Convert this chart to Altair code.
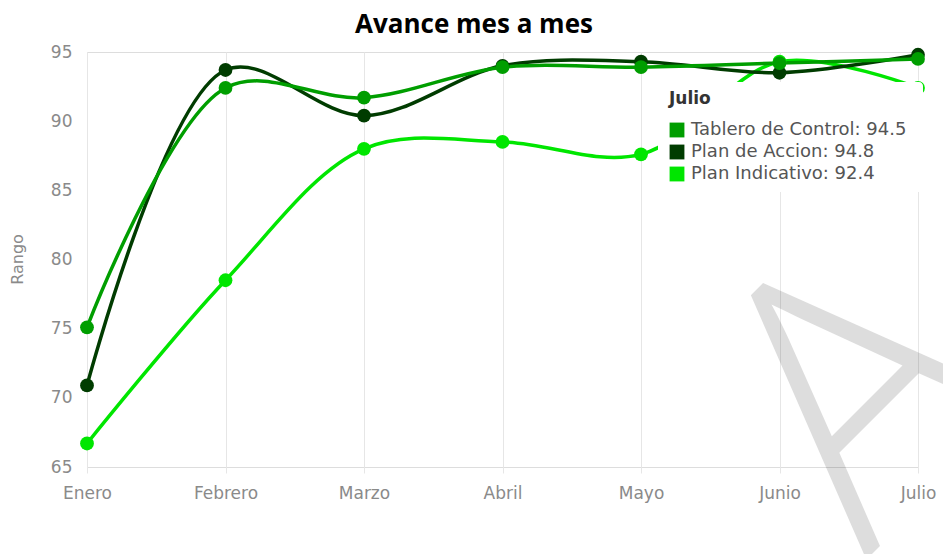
import altair as alt
import pandas as pd

meses = ["Enero", "Febrero", "Marzo", "Abril", "Mayo", "Junio", "Julio"]
series = ["Tablero de Control", "Plan de Accion", "Plan Indicativo"]
tablero = [75.1, 92.4, 91.7, 93.9, 93.9, 94.2, 94.5]
accion = [70.9, 93.7, 90.4, 94.0, 94.3, 93.5, 94.8]
indicativo = [66.7, 78.5, 88.0, 88.5, 87.6, 94.3, 92.4]
colores = ["#009e00", "#003c00", "#00e600"]
y_ticks = [65, 70, 75, 80, 85, 90, 95]
titulo = "Avance mes a mes"
eje_y = "Rango"
marca_agua = "A"

valores = {"Tablero de Control": tablero, "Plan de Accion": accion, "Plan Indicativo": indicativo}

rows = []
for s in reversed(series):
    for m, v in zip(meses, valores[s]):
        rows.append({"serie": s, "mes": m, "valor": v})
df = pd.DataFrame(rows)

FONT = "DejaVu Sans"
GRID = "#e6e6e6"
LBL = "#8a8a8a"

color = alt.Color("serie:N", scale=alt.Scale(domain=series, range=colores), legend=None)
x = alt.X("mes:N", sort=meses, scale=alt.Scale(type="point", padding=0),
          axis=alt.Axis(title=None, grid=True, gridColor=GRID, domain=False, tickColor=GRID,
                        tickSize=6, labelPadding=12, labelAngle=0, labelFont=FONT,
                        labelFontSize=17, labelColor=LBL))
y = alt.Y("valor:Q", scale=alt.Scale(domain=[65, 95], nice=False, zero=False),
          axis=alt.Axis(values=y_ticks, grid=False, domain=False, ticks=False, labelPadding=15,
                        labelFont=FONT, labelFontSize=17, labelColor=LBL,
                        title=eje_y, titleFont=FONT, titleFontSize=16, titleFontWeight="normal",
                        titleColor=LBL, titleX=-70, titleY=207, titleAngle=270,
                        titleAlign="center", titleBaseline="middle"))

lines = alt.Chart(df).mark_line(interpolate="catmull-rom", strokeWidth=3.5).encode(x=x, y=y, color=color)
points = alt.Chart(df).mark_circle(size=190, opacity=1).encode(x=x, y=y, color=color)

one = pd.DataFrame({"k": [0]})
title_mark = alt.Chart(one).mark_text(text=titulo, font="Open Sans", fontSize=26, fontWeight="bold",
                                      color="#000000", align="center", baseline="alphabetic").encode(
    x=alt.value(387), y=alt.value(-19))
tip_bg = alt.Chart(one).mark_rect(fill="white", cornerRadius=4).encode(
    x=alt.value(571), x2=alt.value(836), y=alt.value(30), y2=alt.value(140))
tip_title = alt.Chart(one).mark_text(text=meses[-1], font=FONT, fontSize=17, fontWeight="bold",
                                     color="#333333", align="left", baseline="middle").encode(
    x=alt.value(582), y=alt.value(47))

layers = [lines, points, tip_bg, tip_title, title_mark]
for i, s in enumerate(series):
    yy = 78 + 22 * i
    layers.append(alt.Chart(one).mark_square(size=220, opacity=1, color=colores[i]).encode(
        x=alt.value(590), y=alt.value(yy)))
    layers.append(alt.Chart(one).mark_text(text=f"{s}: {valores[s][-1]}", font=FONT, fontSize=18,
                                           color="#555555", align="left", baseline="middle").encode(
        x=alt.value(604), y=alt.value(yy)))

wm = alt.Chart(one).mark_text(text=marca_agua, font="Open Sans", fontSize=375, fontWeight=300, angle=315,
                              align="center", baseline="alphabetic", color="#000000",
                              opacity=0.13).encode(x=alt.value(859), y=alt.value(428))
layers.append(wm)

chart = alt.layer(*layers).properties(
    width=831, height=415,
    padding={"left": 87, "top": 52, "right": 25, "bottom": 87},
    autosize=alt.AutoSizeParams(type="none"),
).configure_view(stroke=None).configure(background="white")

chart.save("out.html", embed_options={"renderer": "svg", "actions": False})
